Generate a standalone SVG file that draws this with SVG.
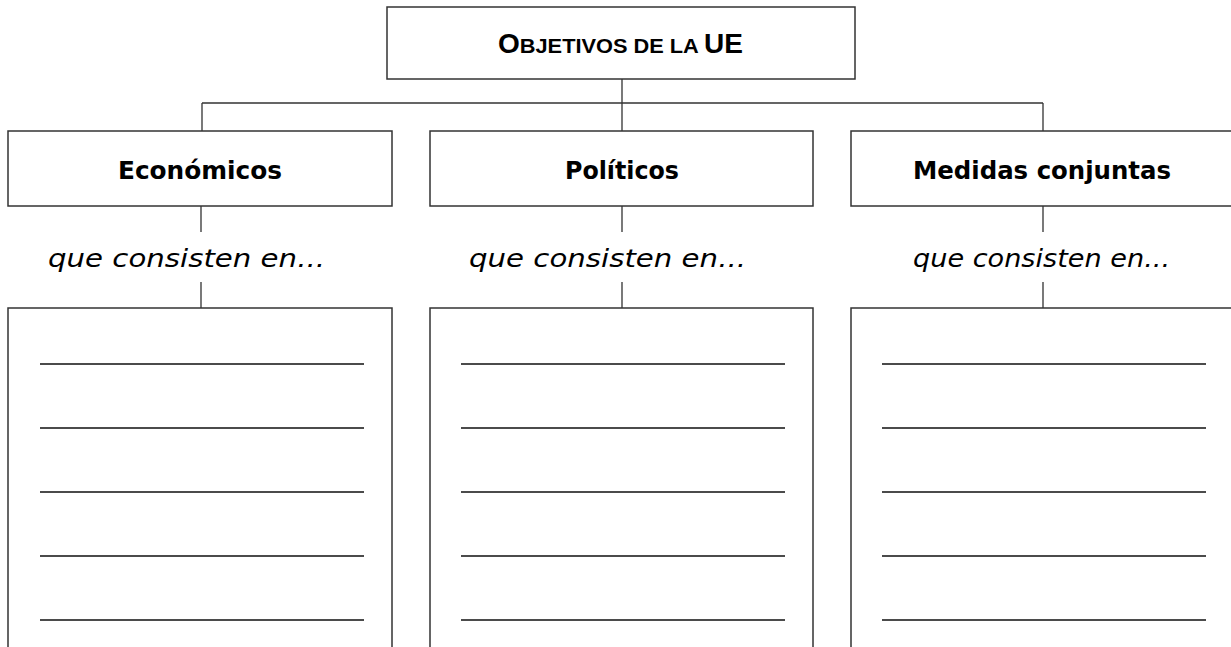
<svg xmlns="http://www.w3.org/2000/svg" width="1231" height="647" viewBox="0 0 1231 647">
<style>
.box{fill:#fff;stroke:#333;stroke-width:1.5}
.con{stroke:#333;stroke-width:1.3;fill:none}
.rule{stroke:#111;stroke-width:1.6}
.t{font-family:"DejaVu Sans","Liberation Sans",sans-serif;fill:#000}
.h{font-weight:bold;font-size:24px}
.i{font-style:italic;font-size:25px}
.ttl{font-family:"Liberation Sans",Arial,sans-serif;font-weight:bold;fill:#000}
</style>
<rect width="1231" height="647" fill="#fff"/>
<g id="connectors">
<path class="con" d="M622,79V103M202,103H1043M202,103V131M622,103V131M1043,103V131"/>
<path class="con" d="M201,206V232M201,282V308M622,206V232M622,282V308M1043,206V232M1043,282V308"/>
</g>
<g id="root">
<rect class="box" x="387" y="7" width="468" height="72"/>
<text class="ttl" x="498" y="53" textLength="245" lengthAdjust="spacingAndGlyphs"><tspan font-size="27">O</tspan><tspan font-size="21">BJETIVOS DE LA </tspan><tspan font-size="27">UE</tspan></text>
</g>
<g id="economicos">
<rect class="box" x="8" y="131" width="384" height="75"/>
<text class="t h" x="118" y="179" textLength="164" lengthAdjust="spacingAndGlyphs">Económicos</text>
<text class="t i" x="48" y="267" textLength="277" lengthAdjust="spacingAndGlyphs">que consisten en...</text>
<rect class="box" x="8" y="308" width="384" height="360"/>
<path class="rule" d="M40,364H364M40,428H364M40,492H364M40,556H364M40,620H364"/>
</g>
<g id="politicos">
<rect class="box" x="430" y="131" width="383" height="75"/>
<text class="t h" x="565" y="179" textLength="114" lengthAdjust="spacingAndGlyphs">Políticos</text>
<text class="t i" x="469" y="267" textLength="277" lengthAdjust="spacingAndGlyphs">que consisten en...</text>
<rect class="box" x="430" y="308" width="383" height="360"/>
<path class="rule" d="M461,364H785M461,428H785M461,492H785M461,556H785M461,620H785"/>
</g>
<g id="medidas">
<rect class="box" x="851" y="131" width="390" height="75"/>
<text class="t h" x="913" y="179" textLength="258" lengthAdjust="spacingAndGlyphs">Medidas conjuntas</text>
<text class="t i" x="913" y="267" textLength="257" lengthAdjust="spacingAndGlyphs">que consisten en...</text>
<rect class="box" x="851" y="308" width="390" height="360"/>
<path class="rule" d="M882,364H1206M882,428H1206M882,492H1206M882,556H1206M882,620H1206"/>
</g>
</svg>
